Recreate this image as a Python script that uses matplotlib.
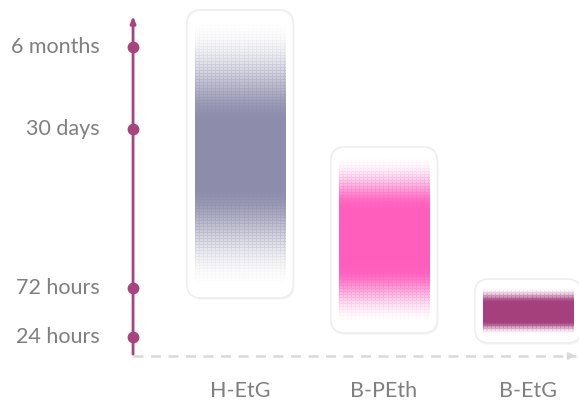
import numpy as np
import matplotlib.pyplot as plt
from matplotlib.patches import FancyBboxPatch
from matplotlib.colors import to_rgb

# time axis ticks (position on an arbitrary detection-time scale)
tick_labels = ["24 hours", "72 hours", "30 days", "6 months"]
tick_pos = [19, 68, 227, 309]

# markers and their detection windows: start of fade-in, full, end full, end of fade-out
markers = ["H-EtG", "B-PEth", "B-EtG"]
win_start = [66, 31, 21]
full_start = [169, 88, 34]
full_end = [234, 148, 54]
win_end = [338, 201, 69]
colors = ["#8d8cab", "#ff5ebd", "#a5407d"]

axis_color = "#a8437f"
text_color = "#7f7f7f"

plt.rcParams['font.family'] = ['Lato', 'DejaVu Sans']

fig = plt.figure(figsize=(5.79, 4.05), dpi=100)
ax = fig.add_axes([0, 0, 1, 1])
ax.axis("off")

bar_w = 0.63
xpos = np.arange(len(markers))


def smooth(t):
    return t * t * (3 - 2 * t)


def make_fill(color, lo, f0, f1, hi, ncols=90):
    rows = int(hi - lo)
    y = np.linspace(lo, hi, rows)
    a = np.ones(rows)
    up = y < f0
    a[up] = smooth((y[up] - lo) / (f0 - lo))
    dn = y > f1
    a[dn] = smooth((hi - y[dn]) / (hi - f1))
    img = np.zeros((rows, ncols, 4))
    img[:, :, :3] = np.array(to_rgb(color))
    alpha = np.repeat(a[:, None], ncols, axis=1)
    # halftone-ish texture in the fading parts, stronger where lighter
    r = np.arange(rows)[:, None]
    c = np.arange(ncols)[None, :]
    on = ((r % 3 == 0) | (c % 4 == 0)).astype(float)
    tex = 1 - (1 - alpha) * 0.6 * (1 - on)
    img[:, :, 3] = np.clip(alpha * tex, 0, 1)
    return img


for i, m in enumerate(markers):
    x0 = xpos[i] - bar_w / 2
    pad_x = 0.055
    pad_y = 8
    # shadow
    sh = FancyBboxPatch((x0 - pad_x + 0.01, win_start[i] - pad_y - 2),
                        bar_w + 2 * pad_x, win_end[i] - win_start[i] + 2 * pad_y,
                        boxstyle="round,pad=0,rounding_size=0.1",
                        mutation_aspect=144, fc="#000000", ec="none",
                        alpha=0.03, zorder=1)
    ax.add_patch(sh)
    box = FancyBboxPatch((x0 - pad_x, win_start[i] - pad_y),
                         bar_w + 2 * pad_x, win_end[i] - win_start[i] + 2 * pad_y,
                         boxstyle="round,pad=0,rounding_size=0.1",
                         mutation_aspect=144, fc="white", ec="#eeeeee",
                         lw=1.2, zorder=2)
    ax.add_patch(box)
    img = make_fill(colors[i], win_start[i], full_start[i], full_end[i], win_end[i])
    ax.imshow(img, extent=(x0, x0 + bar_w, win_start[i], win_end[i]),
              origin="lower", aspect="auto", interpolation="nearest", zorder=3)
    ax.text(xpos[i], -35, m, ha="center", va="center", fontsize=15.5,
            color=text_color)

ax.set_xlim(-1.667, 2.354)
ax.set_ylim(-49, 356)

# vertical time axis
ax_x = -0.743
ax.annotate("", xy=(ax_x, 343), xytext=(ax_x, -1),
            arrowprops=dict(arrowstyle="-|>,head_length=0.4,head_width=0.15",
                            color=axis_color, lw=2), zorder=4)
ax.plot([ax_x] * len(tick_pos), tick_pos, "o", color=axis_color, ms=7.5, zorder=5)
for p, lab in zip(tick_pos, tick_labels):
    ax.text(ax_x - 0.23, p, lab, ha="right", va="center", fontsize=15.5,
            color=text_color)

# dashed horizontal axis
ax.plot([ax_x, 2.33], [0, 0], color="#d9d9d9", lw=1.8, ls=(0, (4, 3)), zorder=3)
ax.annotate("", xy=(2.35, 0), xytext=(2.3, 0),
            arrowprops=dict(arrowstyle="-|>,head_length=0.4,head_width=0.2",
                            color="#d9d9d9", lw=1.5), zorder=3)

fig.savefig("out.png", dpi=100)
